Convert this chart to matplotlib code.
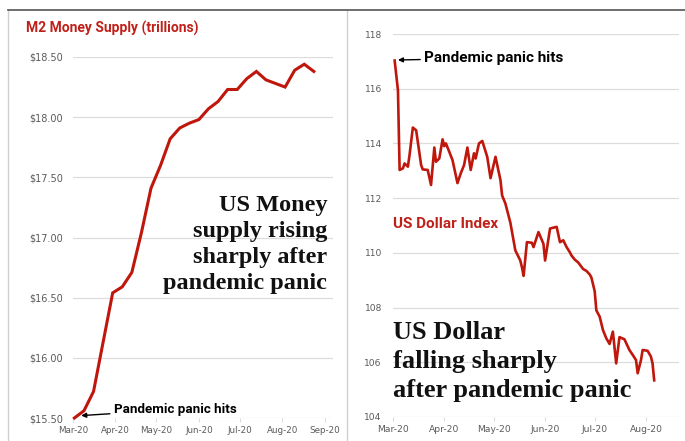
import matplotlib
matplotlib.use('Agg')
import matplotlib.pyplot as plt
import matplotlib.dates as mdates
from matplotlib.lines import Line2D
import pandas as pd

# ── Data ──────────────────────────────────────────────────────────────────────

# weekly M2, trillions of dollars
m2_dates = pd.date_range('2020-03-02', periods=26, freq='7D')
m2_values = [15.50, 15.56, 15.72, 16.13, 16.54, 16.59, 16.71, 17.04, 17.41,
             17.60, 17.82, 17.91, 17.95, 17.98, 18.07, 18.13, 18.23, 18.23,
             18.32, 18.38, 18.31, 18.28, 18.25, 18.39, 18.44, 18.38]

# US dollar index
usd_dates = [
    '2020-03-02', '2020-03-04', '2020-03-05', '2020-03-07', '2020-03-08',
    '2020-03-10', '2020-03-11', '2020-03-13', '2020-03-15', '2020-03-17',
    '2020-03-18', '2020-03-19', '2020-03-22', '2020-03-24', '2020-03-26',
    '2020-03-27', '2020-03-29', '2020-03-31', '2020-04-01', '2020-04-02',
    '2020-04-04', '2020-04-06', '2020-04-09', '2020-04-11', '2020-04-13',
    '2020-04-15', '2020-04-17', '2020-04-19', '2020-04-20', '2020-04-22',
    '2020-04-24', '2020-04-27', '2020-04-29', '2020-05-02', '2020-05-05',
    '2020-05-06', '2020-05-08', '2020-05-11', '2020-05-14', '2020-05-17',
    '2020-05-18', '2020-05-19', '2020-05-21', '2020-05-24', '2020-05-25',
    '2020-05-28', '2020-05-31', '2020-06-01', '2020-06-04', '2020-06-08',
    '2020-06-10', '2020-06-12', '2020-06-14', '2020-06-16', '2020-06-17',
    '2020-06-19', '2020-06-21', '2020-06-24', '2020-06-26', '2020-06-28',
    '2020-06-29', '2020-07-01', '2020-07-02', '2020-07-04', '2020-07-06',
    '2020-07-08', '2020-07-10', '2020-07-12', '2020-07-14', '2020-07-16',
    '2020-07-19', '2020-07-22', '2020-07-24', '2020-07-26', '2020-07-27',
    '2020-07-29', '2020-07-30', '2020-08-02', '2020-08-04', '2020-08-05',
    '2020-08-06',
]
usd_values = [
    117.03, 115.94, 113.03, 113.09, 113.27, 113.15, 113.57, 114.58, 114.48,
    113.64, 113.21, 113.05, 113.03, 112.48, 113.85, 113.33, 113.45, 114.15,
    113.90, 114.00, 113.70, 113.39, 112.55, 112.91, 113.21, 113.85, 113.03,
    113.64, 113.45, 114.00, 114.09, 113.51, 112.73, 113.51, 112.66, 112.10,
    111.80, 111.10, 110.09, 109.72, 109.47, 109.16, 110.39, 110.37, 110.21,
    110.76, 110.33, 109.72, 110.89, 110.95, 110.39, 110.46, 110.21, 110.02,
    109.90, 109.75, 109.65, 109.41, 109.34, 109.21, 109.10, 108.60, 107.90,
    107.67, 107.18, 106.88, 106.67, 107.12, 105.96, 106.92, 106.84, 106.45,
    106.27, 106.08, 105.60, 106.08, 106.45, 106.42, 106.21, 105.96, 105.34,
]

m2_yticks = [15.5, 16.0, 16.5, 17.0, 17.5, 18.0, 18.5]
usd_yticks = [104, 106, 108, 110, 112, 114, 116, 118]

m2_caption = ['US Money', 'supply rising', 'sharply after', 'pandemic panic']
usd_caption = ['US Dollar', 'falling sharply', 'after pandemic panic']

# ── Style ─────────────────────────────────────────────────────────────────────

LINE_RED = '#c0170d'
TITLE_RED = '#c0201a'
TICK_GRAY = '#5a5a5a'
GRID_GRAY = '#dcdcdc'
NARROW = ['Roboto', 'Liberation Sans', 'DejaVu Sans']
SERIF = ['Liberation Serif', 'DejaVu Serif']

plt.rcParams.update({
    'font.family': 'DejaVu Sans',
    'axes.linewidth': 0,
    'xtick.color': GRID_GRAY,
    'ytick.color': GRID_GRAY,
    'xtick.labelcolor': TICK_GRAY,
    'ytick.labelcolor': TICK_GRAY,
})

W, H = 685, 441
fig = plt.figure(figsize=(W / 100, H / 100), dpi=100)


def px_axes(left, top, right, bottom):
    return fig.add_axes([left / W, 1 - bottom / H, (right - left) / W,
                         (bottom - top) / H])


def style_axes(ax, yticks, ylim, xlim, fmt, ysize, xsize, ypad):
    ax.set_ylim(*ylim)
    ax.set_xlim(pd.Timestamp(xlim[0]), pd.Timestamp(xlim[1]))
    ax.set_yticks(yticks)
    ax.set_yticklabels([fmt.format(v) for v in yticks], fontsize=ysize)
    ax.xaxis.set_major_locator(mdates.MonthLocator())
    ax.xaxis.set_major_formatter(mdates.DateFormatter('%b-%y'))
    ax.tick_params(axis='x', labelsize=xsize, length=3, width=0.8, pad=3)
    ax.tick_params(axis='y', length=0, pad=ypad)
    ax.grid(axis='y', color=GRID_GRAY, linewidth=0.9, zorder=0)
    for s in ax.spines.values():
        s.set_visible(False)
    ax.patch.set_alpha(0)


# ── Left panel: M2 money supply ───────────────────────────────────────────────

ax1 = px_axes(73, 57, 333, 418)
style_axes(ax1, m2_yticks, (15.5, 18.5), ('2020-03-01', '2020-09-07'),
           '${:.2f}', 7, 6.3, 7)
ax1.plot(m2_dates, m2_values, color=LINE_RED, linewidth=2.2, zorder=3,
         clip_on=False, solid_joinstyle='miter')

ax1.annotate('Pandemic panic hits', xy=(pd.Timestamp('2020-03-07'), 15.52),
             xytext=(pd.Timestamp('2020-03-31'), 15.57),
             ha='left', va='center', fontsize=9.6, fontweight='bold',
             family=NARROW, color='black',
             arrowprops=dict(arrowstyle='-|>', color='black', lw=1,
                             mutation_scale=7, shrinkA=1, shrinkB=0))

for i, line in enumerate(m2_caption):
    ax1.text(0.977, 0.573 - i * 0.072, line, transform=ax1.transAxes,
             ha='right', va='baseline', fontsize=17.5, fontweight='bold',
             family=SERIF, color='#111111')

fig.text(26 / W, 1 - 28 / H, 'M2 Money Supply (trillions)', ha='left',
         va='center', fontsize=10, fontweight='bold', family=NARROW,
         color=TITLE_RED)

# ── Right panel: US dollar index ──────────────────────────────────────────────

ax2 = px_axes(393, 34, 679, 417)
style_axes(ax2, usd_yticks, (104, 118), ('2020-03-01', '2020-08-21'),
           '{:d}', 6.6, 6.6, 8)
ax2.plot(pd.to_datetime(usd_dates), usd_values, color=LINE_RED,
         linewidth=1.9, zorder=3, clip_on=False)

ax2.annotate('Pandemic panic hits', xy=(pd.Timestamp('2020-03-04'), 117.05),
             xytext=(pd.Timestamp('2020-03-20'), 117.12),
             ha='left', va='center', fontsize=11, fontweight='bold',
             family=NARROW, color='black',
             arrowprops=dict(arrowstyle='-|>', color='black', lw=1,
                             mutation_scale=7, shrinkA=1, shrinkB=0))

ax2.text(0.0, 0.503, 'US Dollar Index', transform=ax2.transAxes, ha='left',
         va='center', fontsize=11, fontweight='bold', family=NARROW,
         color=TITLE_RED)

for i, line in enumerate(usd_caption):
    ax2.text(0.0, 0.204 - i * 0.076, line, transform=ax2.transAxes,
             ha='left', va='baseline', fontsize=19, fontweight='bold',
             family=SERIF, color='#111111')

# ── Frame lines ───────────────────────────────────────────────────────────────

frame_gray = '#cfcfcf'
fig.add_artist(Line2D([8 / W, 8 / W], [0, 1 - 10 / H], color=frame_gray,
                      linewidth=1, transform=fig.transFigure))
fig.add_artist(Line2D([347 / W, 347 / W], [0, 1 - 10 / H], color=frame_gray,
                      linewidth=1, transform=fig.transFigure))
fig.add_artist(Line2D([8 / W, 1], [1 - 10 / H, 1 - 10 / H], color='#555555',
                      linewidth=1.2, transform=fig.transFigure))

fig.savefig('out.png', dpi=100, facecolor='white')
